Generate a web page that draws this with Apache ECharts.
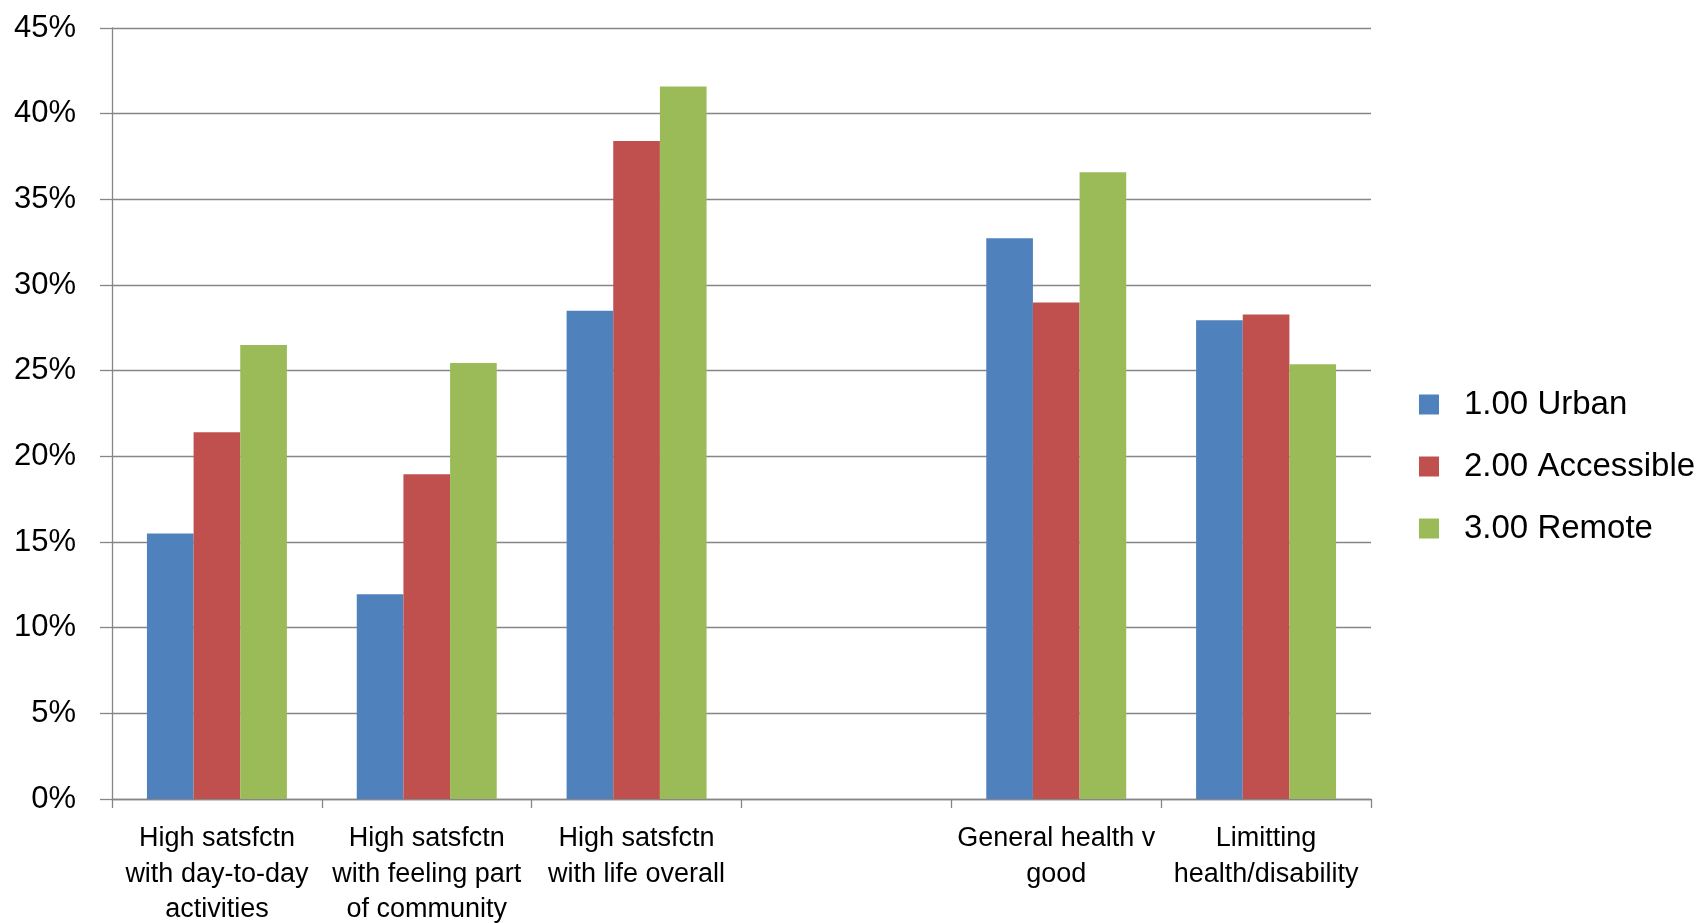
<!DOCTYPE html>
<html>
<head>
<meta charset="utf-8">
<script src="https://cdn.jsdelivr.net/npm/echarts@6/dist/echarts.min.js"></script>
<style>
html,body{margin:0;padding:0;background:#fff;}
#chart{width:1700px;height:923px;}
</style>
</head>
<body>
<div id="chart"></div>
<script>
const categories = [
  "High satsfctn\nwith day-to-day\nactivities",
  "High satsfctn\nwith feeling part\nof community",
  "High satsfctn\nwith life overall",
  "",
  "General health v\ngood",
  "Limitting\nhealth/disability"
];
const seriesNames = ["1.00 Urban", "2.00 Accessible", "3.00 Remote"];
const urban = [15.5, 11.95, 28.5, null, 32.73, 27.94];
const accessible = [21.4, 18.95, 38.4, null, 28.98, 28.28];
const remote = [26.5, 25.45, 41.58, null, 36.58, 25.38];
const yTicks = { min: 0, max: 45, interval: 5 };
const colors = ["#4F81BD", "#C0504D", "#9BBB59"];

const font = "'Liberation Sans', Arial, sans-serif";
const chart = echarts.init(document.getElementById('chart'));
const values = [urban, accessible, remote];
chart.setOption({
  animation: false,
  backgroundColor: '#fff',
  color: colors,
  grid: { left: 112, right: 329, top: 28, bottom: 124, containLabel: false, outerBoundsMode: 'none' },
  legend: {
    orient: 'vertical',
    left: 1414,
    top: 383,
    itemWidth: 20,
    itemHeight: 20,
    itemGap: 29,
    icon: 'rect',
    textStyle: { fontFamily: font, fontSize: 33, color: '#000', padding: [0, 0, 0, 20] },
    data: seriesNames
  },
  xAxis: {
    type: 'category',
    data: categories,
    boundaryGap: true,
    axisLine: { lineStyle: { color: '#868686', width: 1.3 } },
    axisTick: { show: true, length: 9, lineStyle: { color: '#868686', width: 1.3 } },
    axisLabel: { interval: 0, margin: 22, fontFamily: font, fontSize: 27, lineHeight: 35.5, color: '#000' },
    splitLine: { show: false }
  },
  yAxis: {
    type: 'value',
    min: yTicks.min, max: yTicks.max, interval: yTicks.interval,
    axisLine: { show: true, lineStyle: { color: '#868686', width: 1.3 } },
    axisTick: { show: true, length: 12, lineStyle: { color: '#868686', width: 1.3 } },
    axisLabel: { formatter: '{value}%', margin: 36, fontFamily: font, fontSize: 31, color: '#000' },
    splitLine: { lineStyle: { color: '#868686', width: 1.3 } }
  },
  series: seriesNames.map((n, i) => ({
    name: n,
    type: 'bar',
    data: values[i],
    barGap: '0%',
    barCategoryGap: '33.3%',
    itemStyle: { color: colors[i] }
  }))
});
</script>
</body>
</html>
